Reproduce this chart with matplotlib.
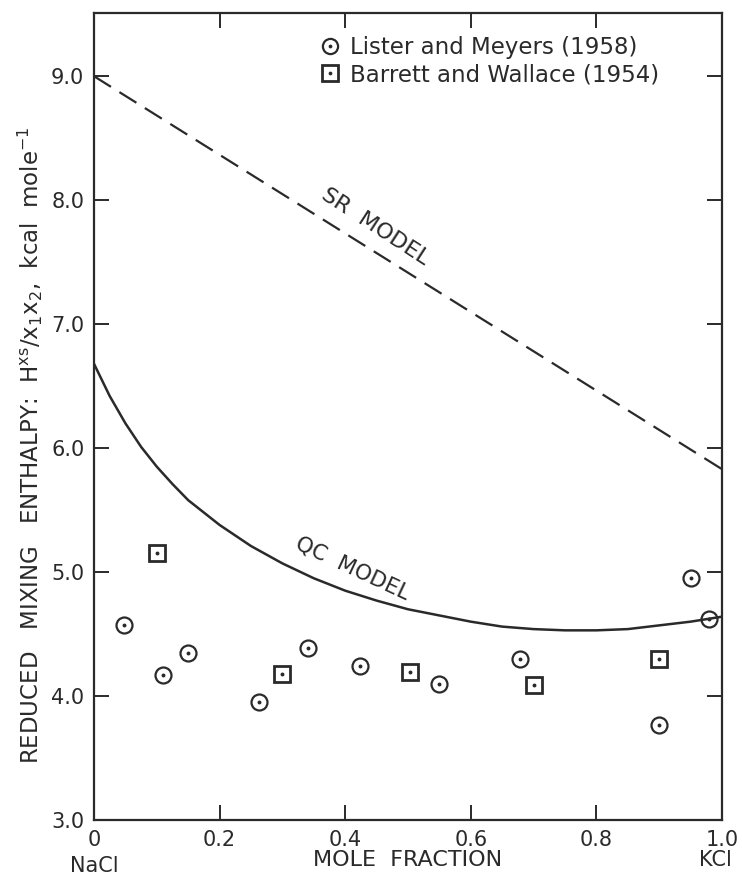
import matplotlib
matplotlib.use('Agg')
import matplotlib.pyplot as plt
from matplotlib.legend_handler import HandlerTuple
import numpy as np

plt.rcParams['font.family'] = ['DejaVu Sans']

# Lister and Meyers (1958), circles
lister_x = [0.047, 0.110, 0.149, 0.262, 0.341, 0.423, 0.550, 0.679, 0.899, 0.950, 0.980]
lister_y = [4.57, 4.17, 4.35, 3.95, 4.39, 4.24, 4.10, 4.30, 3.77, 4.95, 4.62]

# Barrett and Wallace (1954), squares
barrett_x = [0.101, 0.300, 0.503, 0.700, 0.899]
barrett_y = [5.15, 4.18, 4.19, 4.09, 4.30]

# SR model (straight line, dashed)
sr_x = [0.0, 1.0]
sr_y = [9.00, 5.83]

# QC model (solid curve)
qc_x = [0.0, 0.025, 0.05, 0.075, 0.10, 0.125, 0.15, 0.20, 0.25, 0.30, 0.35, 0.40,
        0.45, 0.50, 0.55, 0.60, 0.65, 0.70, 0.75, 0.80, 0.85, 0.90, 0.95, 1.0]
qc_y = [6.68, 6.42, 6.20, 6.01, 5.85, 5.71, 5.58, 5.38, 5.21, 5.07, 4.95, 4.85,
        4.77, 4.70, 4.65, 4.60, 4.56, 4.54, 4.53, 4.53, 4.54, 4.57, 4.60, 4.64]

xticks = [0, 0.2, 0.4, 0.6, 0.8, 1.0]
xtick_labels = ['0', '0.2', '0.4', '0.6', '0.8', '1.0']
yticks = [3.0, 4.0, 5.0, 6.0, 7.0, 8.0, 9.0]

ink = '#2a2a2a'

fig = plt.figure(figsize=(7.42, 8.83), dpi=100)
ax = fig.add_axes([94/742, 1 - 820/883, (722 - 94)/742, (820 - 13)/883])

# model curves
ax.plot(sr_x, sr_y, color=ink, lw=1.6, dashes=(9, 4.5))
ax.plot(qc_x, qc_y, color=ink, lw=1.8)

# data points: open marker with a small dot in the middle
ms = 11.5
c1, = ax.plot(lister_x, lister_y, 'o', ms=ms, mfc='none', mec=ink, mew=1.6, ls='none')
d1, = ax.plot(lister_x, lister_y, 'o', ms=1.8, color=ink, ls='none')
c2, = ax.plot(barrett_x, barrett_y, 's', ms=ms, mfc='none', mec=ink, mew=2.0, ls='none')
d2, = ax.plot(barrett_x, barrett_y, 'o', ms=1.8, color=ink, ls='none')

leg = ax.legend([(c1, d1), (c2, d2)],
                ['Lister and Meyers (1958)', 'Barrett and Wallace (1954)'],
                handler_map={tuple: HandlerTuple(ndivide=1, pad=0)},
                loc='upper left', bbox_to_anchor=(0.36, 0.972), frameon=False,
                fontsize=16.5, handlelength=0.85, handletextpad=0.45,
                labelspacing=0.2, borderaxespad=0, borderpad=0, markerscale=0.95)
for t in leg.get_texts():
    t.set_color(ink)

# curve labels
ax.text(0.447, 7.79, 'SR  MODEL', rotation=-33, ha='center', va='center',
        fontsize=16, color=ink, rotation_mode='anchor')
ax.text(0.412, 5.03, 'QC  MODEL', rotation=-25, ha='center', va='center',
        fontsize=15.5, color=ink, rotation_mode='anchor')

ax.set_xlim(0, 1.0)
ax.set_ylim(3.0, 9.51)
ax.set_xticks(xticks)
ax.set_xticklabels(xtick_labels)
ax.set_yticks(yticks)
ax.set_yticklabels(['%.1f' % v for v in yticks])
ax.tick_params(direction='in', length=11, width=1.4, color=ink, labelcolor=ink,
               labelsize=15, top=True, right=True, pad=7)
for s in ax.spines.values():
    s.set_linewidth(1.6)
    s.set_color(ink)

# axis titles and the two end-member names
ax.text(0.0, -0.057, 'NaCl', transform=ax.transAxes, ha='center', va='center',
        fontsize=15, color=ink)
ax.text(0.99, -0.049, 'KCl', transform=ax.transAxes, ha='center', va='center',
        fontsize=15, color=ink)
fig.text(408/742, 1 - 860/883, 'MOLE  FRACTION', ha='center', va='center',
         fontsize=16, color=ink)
fig.text(30/742, 1 - 445/883,
         r'REDUCED   MIXING   ENTHALPY:  H$^{\mathrm{xs}}$/x$_1$x$_2$,  kcal  mole$^{-1}$',
         rotation=90, ha='center', va='center', fontsize=16.5, color=ink)

fig.savefig('out.png', dpi=100)
